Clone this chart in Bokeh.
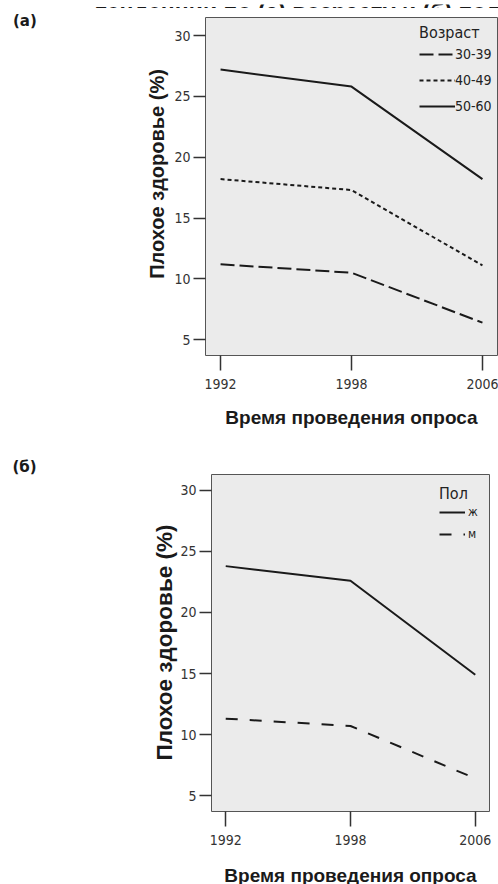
import math
from bokeh.plotting import figure
from bokeh.models import Range1d, FixedTicker, Label, Legend, LegendItem
from bokeh.layouts import column, row
from bokeh.embed import file_html
from bokeh.resources import INLINE
from bokeh.core.properties import value

# ---------------- data ----------------
years = ["1992", "1998", "2006"]
age_groups = ["30-39", "40-49", "50-60"]
age_30_39 = [11.2, 10.5, 6.4]
age_40_49 = [18.2, 17.3, 11.1]
age_50_60 = [27.2, 25.8, 18.2]
sex_groups = ["ж", "м"]
sex_f = [23.8, 22.6, 14.9]
sex_m = [11.3, 10.7, 6.4]
y_ticks = [5, 10, 15, 20, 25, 30]

title_text = "тенденции по (а) возрасту и (б) полу"
panel_a_text = "(а)"
panel_b_text = "(б)"
y_label = "Плохое здоровье (%)"
x_label = "Время проведения опроса"
legend_a_title = "Возраст"
legend_b_title = "Пол"

NARROW = "Liberation Sans Narrow, DejaVu Sans Condensed, sans-serif"
BOLD = "Liberation Sans, Arial, sans-serif"
PANEL_FONT = "DejaVu Sans, Verdana, sans-serif"
INK = "#1a1a1a"


def make_panel(W, H, left, right, top, bottom, xr, yr, xlab_standoff=None):
    p = figure(width=W, height=H, min_border_left=left, min_border_right=right,
               min_border_top=top, min_border_bottom=bottom,
               x_range=Range1d(*xr), y_range=Range1d(*yr),
               output_backend="svg", toolbar_location=None,
               background_fill_color="#ebebeb", border_fill_color="white",
               outline_line_color="#555555", outline_line_width=1)
    p.grid.visible = False
    xs = list(range(len(years)))
    p.xaxis.ticker = FixedTicker(ticks=xs)
    p.xaxis.major_label_overrides = {i: yv for i, yv in enumerate(years)}
    p.yaxis.ticker = FixedTicker(ticks=y_ticks)
    for ax in (p.xaxis, p.yaxis):
        ax.axis_line_color = None
        ax.major_tick_in = 0
        ax.minor_tick_line_color = None
        ax.major_tick_line_color = "#333333"
        ax.major_tick_line_width = 1.5
        ax.major_label_text_font = NARROW
        ax.major_label_text_font_size = "14px"
        ax.major_label_text_color = "#333333"
    p.xaxis.major_tick_out = 15
    p.xaxis.major_label_standoff = 8
    p.yaxis.major_tick_out = 12
    p.yaxis.major_label_standoff = 3
    if xlab_standoff is not None:
        p.xaxis.axis_label = x_label
        p.xaxis.axis_label_text_font = BOLD
        p.xaxis.axis_label_text_font_style = "bold"
        p.xaxis.axis_label_text_font_size = "19px"
        p.xaxis.axis_label_text_color = INK
        p.xaxis.axis_label_standoff = xlab_standoff
    return p


def conv(p_left, p_top, fw, fh, xr, yr):
    def fx(px):
        return xr[0] + (px - p_left) / fw * (xr[1] - xr[0])

    def fy(py):
        return yr[1] - (py - p_top) / fh * (yr[1] - yr[0])
    return fx, fy


def side_label(p, x, y, text, size, font=BOLD, angle=0.0, align="left", side="left"):
    p.add_layout(Label(x=x, y=y, text=text, text_font=font, text_font_style="bold",
                       text_font_size=size, angle=angle, text_color=INK,
                       text_align=align, text_baseline="alphabetic"), side)


xs = list(range(len(years)))

# ---------------- title strip (top of the page, cut by the page edge) ----------------
STRIP_H = 8
strip = figure(width=498, height=STRIP_H, min_border=0, title=None,
               x_range=Range1d(0, 498), y_range=Range1d(0, STRIP_H),
               output_backend="svg", toolbar_location=None,
               x_axis_type=None, y_axis_type=None, outline_line_color=None,
               background_fill_color="white", border_fill_color="white")
strip.grid.visible = False
strip.text(x=[95], y=[STRIP_H], y_offset=7.5, text=[title_text], text_font=value(BOLD),
           text_font_style="bold", text_font_size="23px", text_color=INK,
           text_align="left", text_baseline="alphabetic")

# ---------------- panel (a) ----------------
HA = 442 - STRIP_H
TOP_A = 17 - STRIP_H
xr_a = (-0.115, 2.115)
yr_a = (3.7, 31.48)
pa = make_panel(498, HA, 205, 1, TOP_A, 87, xr_a, yr_a, 15)
fxa, fya = conv(205, TOP_A, 292, 338, xr_a, yr_a)

r1 = pa.line(xs, age_30_39, line_color=INK, line_width=2, line_dash="14 5")
r2 = pa.line(xs, age_40_49, line_color=INK, line_width=2, line_dash="4 3")
r3 = pa.line(xs, age_50_60, line_color=INK, line_width=2)
leg_a = Legend(items=[LegendItem(label=age_groups[0], renderers=[r1]),
                      LegendItem(label=age_groups[1], renderers=[r2]),
                      LegendItem(label=age_groups[2], renderers=[r3])],
               location=(214, 239), title=legend_a_title,
               title_text_font=NARROW, title_text_font_size="16px",
               title_text_font_style="normal", title_text_color="#222222",
               title_standoff=2,
               label_text_font=NARROW, label_text_font_size="14px",
               label_text_color="#222222",
               glyph_width=36, glyph_height=20, label_height=20,
               label_standoff=0, spacing=6, padding=0, margin=0,
               border_line_color=None, background_fill_alpha=0)
pa.add_layout(leg_a)

side_label(pa, fxa(12.5), fya(20.5 - STRIP_H), panel_a_text, "15px", font=PANEL_FONT)
side_label(pa, fxa(156), fya(173.5 - STRIP_H), y_label, "20px", angle=math.pi / 2, align="center")

# ---------------- panel (б) ----------------
xr_b = (-0.114, 2.114)
yr_b = (3.69, 31.31)
pb = make_panel(498, 442, 211, 9, 32, 73, xr_b, yr_b, None)
fxb, fyb = conv(211, 32, 278, 337, xr_b, yr_b)

s1 = pb.line(xs, sex_f, line_color=INK, line_width=2)
s2 = pb.line(xs, sex_m, line_color=INK, line_width=2, line_dash="12 12")
leg_b = Legend(items=[LegendItem(label=sex_groups[0], renderers=[s1]),
                      LegendItem(label=sex_groups[1], renderers=[s2])],
               location=(228, 268), title=legend_b_title,
               title_text_font=NARROW, title_text_font_size="16px",
               title_text_font_style="normal", title_text_color="#222222",
               title_standoff=0,
               label_text_font=NARROW, label_text_font_size="12px",
               label_text_color="#222222",
               glyph_width=26, glyph_height=18, label_height=18,
               label_standoff=3, spacing=4, padding=0, margin=0,
               border_line_color=None, background_fill_alpha=0)
pb.add_layout(leg_b)

side_label(pb, fxb(12), fyb(24.5), panel_b_text, "15px", font=PANEL_FONT)
side_label(pb, fxb(163.7), fyb(200), y_label, "22.5px", angle=math.pi / 2, align="center")
side_label(pb, fxb(350), fyb(432.5), x_label, "19px", align="center", side="below")

layout = column(row(strip), row(pa), row(pb), spacing=0)
open("out.html", "w").write(file_html(layout, INLINE))
